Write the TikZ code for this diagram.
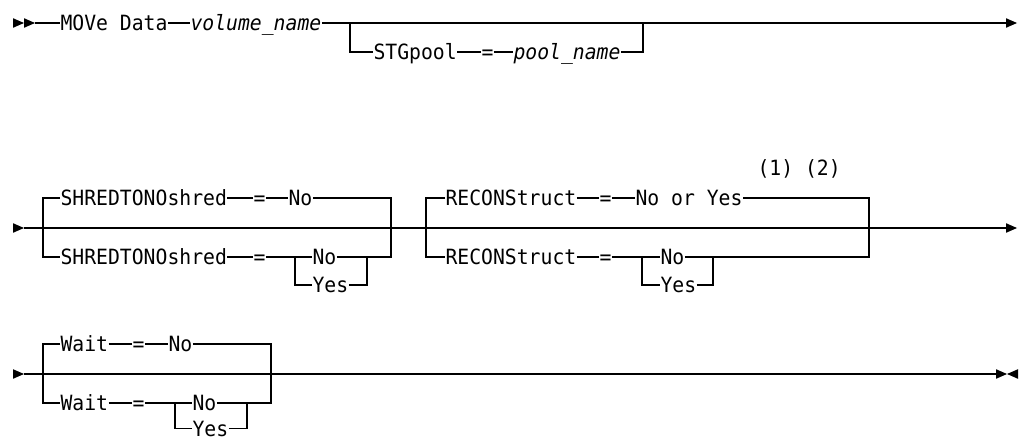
\documentclass[tikz,border=0pt]{standalone}
\usepackage{fontspec}
\newfontfamily\mono[FakeStretch=0.94,ItalicFont={DejaVu Sans Mono Oblique},ItalicFeatures={FakeStretch=0.94}]{DejaVu Sans Mono}
\begin{document}
\begin{tikzpicture}[x=1pt,y=-1pt,line width=1.1pt,
  t/.style={font={\mono\fontsize{21}{24}\selectfont}, inner sep=0pt, anchor=west, text height=15.2pt, text depth=0pt},
  ti/.style={t, font={\mono\fontsize{21}{24}\selectfont\itshape}},
  tri/.pic={\fill (0,-4.8) -- (11,0) -- (0,4.8) -- cycle;}]
\useasboundingbox (0,0) rectangle (1019,439);
% ---------- Row 1 ----------
\pic at (13,23) {tri};
\pic at (24,23) {tri};
\coordinate (r1s) at (35,23);
\node[t]  (move) at (60,23) {MOVe Data};
\node[ti] (vol)  at (190,23) {volume\_name};
\coordinate (b1a) at (350,23);
\coordinate (b1b) at (350,52);
\node[t]  (stg)  at (373,52) {STGpool};
\node[t]  (eq1)  at (481,52) {=};
\node[ti] (pool) at (513,52) {pool\_name};
\coordinate (b1c) at (643,52);
\coordinate (b1d) at (643,23);
\coordinate (r1e) at (1006,23);
\draw (r1s) -- (move.west);
\draw (move.east) -- (vol.west);
\draw (vol.east) -- (r1e);
\draw (b1a) -- (b1b) -- (stg.west);
\draw (stg.east) -- (eq1.west);
\draw (eq1.east) -- (pool.west);
\draw (pool.east) -- (b1c) -- (b1d);
\pic at (1006,23) {tri};
% ---------- Row 2 ----------
\pic at (13,228) {tri};
\coordinate (r2s) at (24,228);
\coordinate (r2e) at (1006,228);
\draw (r2s) -- (r2e);
\pic at (1006,228) {tri};
% group 1
\coordinate (g1tl) at (43,198);
\coordinate (g1bl) at (43,257);
\coordinate (g1tr) at (391,198);
\coordinate (g1br) at (391,257);
\node[t] (sh1) at (60,198) {SHREDTONOshred};
\node[t] (eq2) at (253,198) {=};
\node[t] (no1) at (288,198) {No};
\node[t] (sh2) at (60,257) {SHREDTONOshred};
\node[t] (eq3) at (253,257) {=};
\coordinate (c1) at (295,257);
\coordinate (c2) at (367,257);
\node[t] (no2)  at (312,257) {No};
\node[t] (yes2) at (312,285) {Yes};
\draw (sh1.west) -- (g1tl) -- (g1bl) -- (sh2.west);
\draw (sh1.east) -- (eq2.west);
\draw (eq2.east) -- (no1.west);
\draw (no1.east) -- (g1tr) -- (g1br) -- (c2);
\draw (sh2.east) -- (eq3.west);
\draw (eq3.east) -- (c1) -- (no2.west);
\draw (c1) |- (yes2.west);
\draw (no2.east) -- (c2);
\draw (yes2.east) -| (c2);
% group 2
\coordinate (g2tl) at (426,198);
\coordinate (g2bl) at (426,257);
\coordinate (g2tr) at (869,198);
\coordinate (g2br) at (869,257);
\node[t] (rc1) at (445,198) {RECONStruct};
\node[t] (eq4) at (599,198) {=};
\node[t] (ny)  at (635,198) {No or Yes};
\node[t] (fn)  at (757,168) {(1) (2)};
\node[t] (rc2) at (445,257) {RECONStruct};
\node[t] (eq5) at (599,257) {=};
\coordinate (c3) at (642,257);
\coordinate (c4) at (713,257);
\node[t] (no3)  at (660,257) {No};
\node[t] (yes3) at (660,285) {Yes};
\draw (rc1.west) -- (g2tl) -- (g2bl) -- (rc2.west);
\draw (rc1.east) -- (eq4.west);
\draw (eq4.east) -- (ny.west);
\draw (ny.east) -- (g2tr) -- (g2br) -- (c4);
\draw (rc2.east) -- (eq5.west);
\draw (eq5.east) -- (c3) -- (no3.west);
\draw (c3) |- (yes3.west);
\draw (no3.east) -- (c4);
\draw (yes3.east) -| (c4);
% ---------- Row 3 ----------
\pic at (13,374) {tri};
\coordinate (r3s) at (24,374);
\coordinate (r3e) at (996,374);
\draw (r3s) -- (r3e);
\pic at (996,374) {tri};
\pic[xscale=-1] at (1018,374) {tri};
\coordinate (g3tl) at (43,344);
\coordinate (g3bl) at (43,403);
\coordinate (g3tr) at (271,344);
\coordinate (g3br) at (271,403);
\coordinate (g3m) at (271,374);
\coordinate (g3k) at (300,374);
\draw[line width=1.8pt] (g3m) -- (g3k);
\node[t] (w1) at (60,344) {Wait};
\node[t] (eq6) at (132,344) {=};
\node[t] (no4) at (168,344) {No};
\node[t] (w2) at (60,403) {Wait};
\node[t] (eq7) at (132,403) {=};
\coordinate (c5) at (175,403);
\coordinate (c6) at (247,403);
\node[t] (no5)  at (192,403) {No};
\node[t] (yes5) at (192,428.5) {Yes};
\draw (w1.west) -- (g3tl) -- (g3bl) -- (w2.west);
\draw (w1.east) -- (eq6.west);
\draw (eq6.east) -- (no4.west);
\draw (no4.east) -- (g3tr) -- (g3br) -- (c6);
\draw (w2.east) -- (eq7.west);
\draw (eq7.east) -- (c5) -- (no5.west);
\draw (c5) |- (yes5.west);
\draw (no5.east) -- (c6);
\draw (yes5.east) -| (c6);
\end{tikzpicture}
\end{document}
